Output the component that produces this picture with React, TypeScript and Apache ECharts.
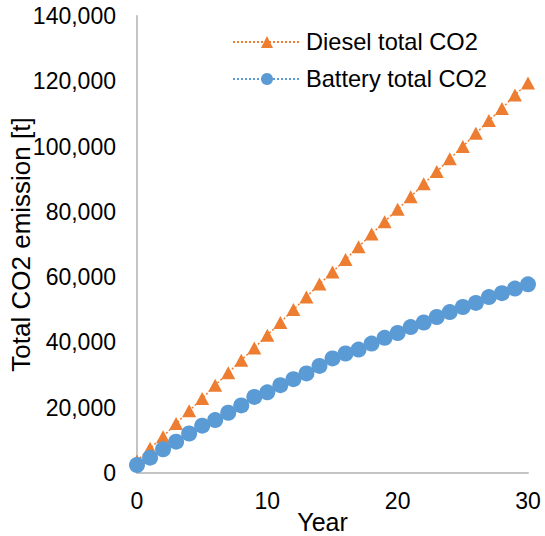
import React, { useEffect, useRef } from "react";
import * as echarts from "echarts";

const years = Array.from({ length: 31 }, (_, i) => i);
const dieselTotal = [
  3700, 7600, 11100, 15200, 19050, 22800, 26900, 30700, 34550, 38300, 42200,
  46100, 50050, 53900, 57900, 61550, 65400, 69300, 73200, 77000, 80800,
  84600, 88600, 92350, 96250, 100000, 104050, 107950, 111700, 115800, 119450,
];
const batteryTotal = [
  2450, 4700, 7250, 9600, 12100, 14500, 16200, 18450, 20700, 23300, 24700,
  26900, 28750, 30500, 32800, 35100, 36600, 37800, 39650, 41400, 42900,
  44700, 46100, 47800, 49300, 50850, 52100, 53900, 55100, 56500, 57800,
];
const seriesNames = ["Diesel total CO2", "Battery total CO2"];

const FONT = "'Liberation Sans', Arial, sans-serif";

export default function App() {
  const ref = useRef<HTMLDivElement>(null);
  useEffect(() => {
    if (!ref.current) return;
    const chart = echarts.init(ref.current, null, { renderer: "svg" });
    chart.setOption({
      animation: false,
      backgroundColor: "#ffffff",
      textStyle: { fontFamily: FONT, color: "#000" },
      grid: {
        left: 137,
        right: 17,
        top: 16,
        bottom: 63,
        containLabel: false,
        outerBoundsMode: "none",
      },
      legend: {
        orient: "vertical",
        left: 227,
        top: 25,
        itemWidth: 68,
        itemHeight: 15,
        itemGap: 13,
        textStyle: { fontSize: 23.6, color: "#000", fontFamily: FONT },
        data: seriesNames,
      },
      xAxis: {
        type: "value",
        min: 0,
        max: 30,
        interval: 10,
        name: "Year",
        nameLocation: "middle",
        nameGap: 36,
        nameMoveOverlap: false,
        nameTextStyle: { fontSize: 25, color: "#000", fontFamily: FONT, padding: [0, 20, 0, 0] },
        axisLine: { show: true, lineStyle: { color: "#c4c4c4", width: 2 } },
        axisTick: { show: false },
        splitLine: { show: false },
        axisLabel: { fontSize: 23, color: "#000", margin: 16, fontFamily: FONT },
      },
      yAxis: {
        type: "value",
        min: 0,
        max: 140000,
        interval: 20000,
        name: "Total CO2 emission [t]",
        nameLocation: "middle",
        nameGap: 103,
        nameMoveOverlap: false,
        nameTextStyle: { fontSize: 26, color: "#000", fontFamily: FONT },
        axisLine: { show: true, lineStyle: { color: "#c4c4c4", width: 2 } },
        axisTick: { show: false },
        splitLine: { show: false },
        axisLabel: {
          fontSize: 23,
          color: "#000",
          margin: 21,
          fontFamily: FONT,
          formatter: (v: number) => v.toLocaleString("en-US"),
        },
      },
      series: [
        {
          name: seriesNames[0],
          type: "line",
          data: years.map((y, i) => [y, dieselTotal[i]]),
          symbol: "triangle",
          symbolSize: [14, 13],
          itemStyle: { color: "#ED7D31" },
          lineStyle: { color: "#ED7D31", width: 1.5, type: [2, 2] },
        },
        {
          name: seriesNames[1],
          type: "line",
          data: years.map((y, i) => [y, batteryTotal[i]]),
          symbol: "circle",
          symbolSize: 16,
          itemStyle: { color: "#5B9BD5" },
          lineStyle: { color: "#5B9BD5", width: 1.5, type: [2, 2] },
        },
      ],
    });
    return () => chart.dispose();
  }, []);
  return (
    <div
      ref={ref}
      style={{ position: "fixed", left: 0, top: 0, width: 545, height: 536 }}
    />
  );
}
